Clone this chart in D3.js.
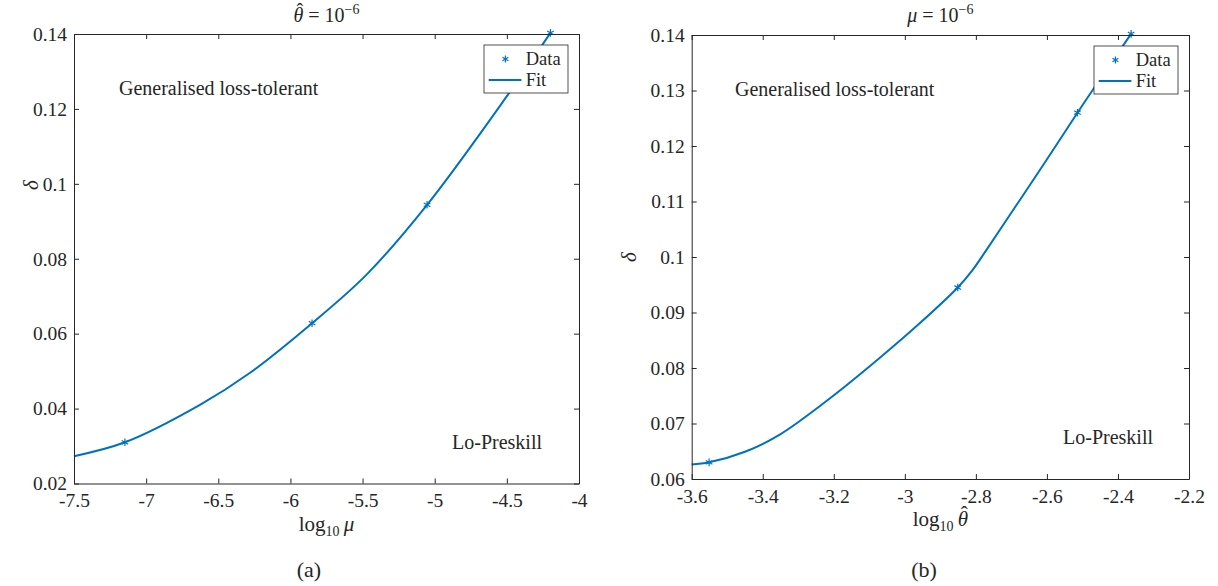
<!DOCTYPE html>
<html>
<head>
<meta charset="utf-8">
<script src="https://cdn.jsdelivr.net/npm/d3@7"></script>
<style>
  body { margin:0; background:#fff; }
  svg { display:block; }
  text { font-family: "Liberation Serif", "Times New Roman", serif; fill:#262626; }
</style>
</head>
<body>
<script>
// (a) delta against log10 mu, theta-hat fixed at 1e-6
var muData = [-7.147, -5.85, -5.053, -4.198];
var muDelta = [0.0310, 0.0628, 0.0944, 0.1403];
var muFitX = [-7.5, -7.147, -6.627, -6.282, -5.85, -5.474, -5.053, -4.5, -4.198];
var muFitY = [0.0273, 0.0310, 0.0410, 0.0495, 0.0628, 0.0757, 0.0944, 0.1234, 0.1403];
var muTicks = [-7.5, -7, -6.5, -6, -5.5, -5, -4.5, -4];
var deltaTicksA = [0.02, 0.04, 0.06, 0.08, 0.1, 0.12, 0.14];

// (b) delta against log10 theta-hat, mu fixed at 1e-6
var thData = [-3.551, -2.851, -2.514, -2.363];
var thDelta = [0.0630, 0.0945, 0.1260, 0.1402];
var thFitX = [-3.6, -3.551, -3.45, -3.352, -3.2115, -3.071, -2.959, -2.851, -2.81, -2.771, -2.678, -2.603, -2.514, -2.472, -2.363];
var thFitY = [0.0626, 0.0630, 0.0649, 0.0680, 0.0745, 0.0818, 0.0880, 0.0945, 0.0976, 0.1012, 0.1101, 0.1173, 0.1260, 0.1300, 0.1402];
var thTicks = [-3.6, -3.4, -3.2, -3, -2.8, -2.6, -2.4, -2.2];
var deltaTicksB = [0.06, 0.07, 0.08, 0.09, 0.1, 0.11, 0.12, 0.13, 0.14];

var blue = "#0072BD", ink = "#262626";

var svg = d3.select("body").append("svg")
  .attr("width", 1218)
  .attr("height", 586);

var panels = [
  {l: 74, r: 579, t: 34, b: 483.5, xd: [-7.5, -4], yd: [0.02, 0.14],
   xt: muTicks, yt: deltaTicksA, px: muData, py: muDelta, fx: muFitX, fy: muFitY,
   title: "theta", xsym: "mu", tag: "(a)", tagX: 309, ylabY: 185, ylabX: 38,
   topText: 119, lowText: 452},
  {l: 691.7, r: 1189, t: 35, b: 479, xd: [-3.6, -2.2], yd: [0.06, 0.14],
   xt: thTicks, yt: deltaTicksB, px: thData, py: thDelta, fx: thFitX, fy: thFitY,
   title: "mu", xsym: "theta", tag: "(b)", tagX: 924, ylabY: 257, ylabX: 636,
   topText: 735, lowText: 1063}
];

// write sym with a circumflex over it, inside the same text element
function hatted(textSel, sym, fs, rest) {
  textSel.append("tspan").attr("font-style", "italic").text(sym);
  var h = textSel.append("tspan").attr("dy", -fs * 0.22).text("\u02C6");
  var after = textSel.append("tspan").attr("dy", fs * 0.22).text(rest);
  var node = textSel.node(), n = textSel.text().length - rest.length - 2;
  var w = node.getSubStringLength(n, 1), hw = node.getSubStringLength(n + 1, 1), o = fs * 0.07;
  h.attr("dx", -w / 2 - hw / 2 + o);
  after.attr("dx", w / 2 - hw / 2 - o);
  return after;
}

panels.forEach(function(p) {
  var x = d3.scaleLinear().domain(p.xd).range([p.l, p.r]);
  var y = d3.scaleLinear().domain(p.yd).range([p.b, p.t]);
  var fmt = function(d) { return String(d); };

  // fit curve
  var line = d3.line()
    .x(function(d) { return x(d[0]); })
    .y(function(d) { return y(d[1]); })
    .curve(d3.curveCatmullRom.alpha(0.5));
  svg.append("path")
    .datum(d3.zip(p.fx, p.fy))
    .attr("d", line)
    .attr("fill", "none")
    .attr("stroke", blue)
    .attr("stroke-width", 2);

  // data markers
  svg.selectAll(null)
    .data(d3.zip(p.px, p.py))
    .enter().append("path")
    .attr("d", d3.symbol(d3.symbolAsterisk, 40))
    .attr("transform", function(d) { return "translate(" + x(d[0]) + "," + y(d[1]) + ")"; })
    .attr("fill", "none")
    .attr("stroke", blue)
    .attr("stroke-width", 1.2);

  // box axes, ticks pointing inward
  var ax = [
    [d3.axisBottom(x).tickValues(p.xt).tickFormat(fmt).tickPadding(10), "translate(0," + p.b + ")"],
    [d3.axisTop(x).tickValues(p.xt).tickFormat(""), "translate(0," + p.t + ")"],
    [d3.axisLeft(y).tickValues(p.yt).tickFormat(fmt).tickPadding(7), "translate(" + p.l + ",0)"],
    [d3.axisRight(y).tickValues(p.yt).tickFormat(""), "translate(" + p.r + ",0)"]
  ];
  ax.forEach(function(a) {
    var g = svg.append("g")
      .attr("transform", a[1])
      .call(a[0].tickSizeInner(-5).tickSizeOuter(0));
    g.attr("font-family", null).attr("font-size", null);
    g.selectAll("path, line").attr("stroke", ink).attr("stroke-width", 1);
    g.selectAll("text").attr("fill", ink).style("font-size", "19.5px");
  });

  // title
  var cx = (p.l + p.r) / 2;
  var tt = svg.append("text").attr("x", cx).attr("y", 22)
    .attr("text-anchor", "middle").style("font-size", "20px");
  if (p.title === "theta") {
    hatted(tt, "\u03B8", 20, " = 10");
  } else {
    tt.append("tspan").attr("font-style", "italic").text("\u03BC");
    tt.append("tspan").text(" = 10");
  }
  tt.append("tspan").attr("dy", -8).style("font-size", "14px").text("\u2212" + "6");

  // x label
  var xl = svg.append("text").attr("x", cx).attr("y", p.b + 47)
    .attr("text-anchor", "middle").style("font-size", "21px");
  xl.append("tspan").text("log");
  xl.append("tspan").attr("dy", 5).style("font-size", "14px").text("10");
  xl.append("tspan").attr("dy", -5).text("\u2009");
  if (p.xsym === "theta") {
    hatted(xl, "\u03B8", 21, "");
  } else {
    xl.append("tspan").attr("font-style", "italic").text("\u03BC");
  }

  // y label
  svg.append("text")
    .attr("transform", "translate(" + p.ylabX + "," + p.ylabY + ") rotate(-90)")
    .attr("text-anchor", "middle")
    .attr("font-style", "italic")
    .style("font-size", "21px")
    .text("\u03B4");

  // sub-figure tag
  svg.append("text").attr("x", p.tagX).attr("y", 577)
    .attr("text-anchor", "middle").style("font-size", "22px").text(p.tag);

  // region labels
  svg.append("text").attr("x", p.topText).attr("y", p.t + 61)
    .style("font-size", "20px").text("Generalised loss-tolerant");
  svg.append("text").attr("x", p.lowText).attr("y", p.b - 35)
    .style("font-size", "20px").text("Lo-Preskill");

  // legend
  var lx = p.r - 11 - 84, ly = p.t + 11;
  var lg = svg.append("g").attr("transform", "translate(" + lx + "," + ly + ")");
  lg.append("rect").attr("width", 84).attr("height", 48)
    .attr("fill", "#fff").attr("stroke", ink).attr("stroke-width", 0.8);
  lg.append("path").attr("d", d3.symbol(d3.symbolAsterisk, 32))
    .attr("transform", "translate(21.4,14)")
    .attr("fill", "none").attr("stroke", blue).attr("stroke-width", 1.2);
  lg.append("line").attr("x1", 4.7).attr("x2", 37.4).attr("y1", 35).attr("y2", 35)
    .attr("stroke", blue).attr("stroke-width", 2);
  lg.append("text").attr("x", 41.7).attr("y", 20).style("font-size", "18.5px").text("Data");
  lg.append("text").attr("x", 41.7).attr("y", 41).style("font-size", "18.5px").text("Fit");
});
</script>
</body>
</html>
